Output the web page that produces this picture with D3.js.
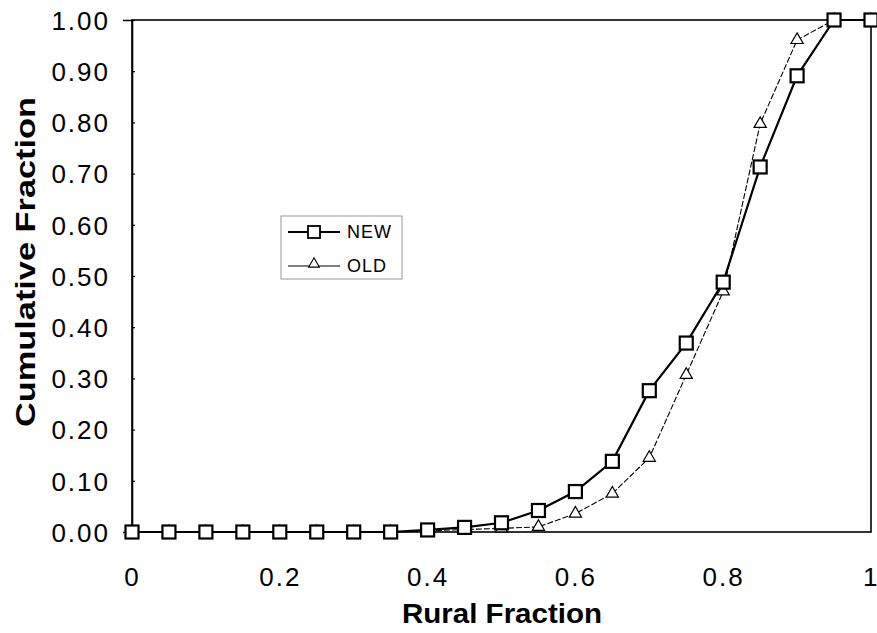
<!DOCTYPE html>
<html>
<head>
<meta charset="utf-8">
<script src="https://cdn.jsdelivr.net/npm/d3@7/dist/d3.min.js"></script>
<style>
  html, body { margin: 0; padding: 0; background: #fff; }
  svg { display: block; font-family: "Liberation Sans", Arial, sans-serif; }
</style>
</head>
<body>
<div id="chart"></div>
<script>
const ruralFraction = [0, 0.05, 0.1, 0.15, 0.2, 0.25, 0.3, 0.35, 0.4, 0.45, 0.5,
                       0.55, 0.6, 0.65, 0.7, 0.75, 0.8, 0.85, 0.9, 0.95, 1.0];
const newValues = [0, 0, 0, 0, 0, 0, 0, 0, 0.004, 0.009, 0.018,
                   0.042, 0.079, 0.138, 0.276, 0.369, 0.488, 0.713, 0.891, 1.0, 1.0];
const oldValues = [0, 0, 0, 0, 0, 0, 0, 0, 0.002, 0.005, 0.007,
                   0.01, 0.036, 0.075, 0.145, 0.307, 0.47, 0.797, 0.961, 1.0, 1.0];
const xTicks = [0, 0.2, 0.4, 0.6, 0.8, 1];
const yTicks = [0, 0.1, 0.2, 0.3, 0.4, 0.5, 0.6, 0.7, 0.8, 0.9, 1.0];

const W = 877, H = 633;
const margin = { top: 20, right: 6, bottom: 101, left: 132 };
const width = W - margin.left - margin.right;
const height = H - margin.top - margin.bottom;

const svg = d3.select("#chart").append("svg")
    .attr("width", W).attr("height", H);
const g = svg.append("g").attr("transform", `translate(${margin.left},${margin.top})`);

const x = d3.scaleLinear().domain([0, 1]).range([0, width]);
const y = d3.scaleLinear().domain([0, 1]).range([height, 0]);

// plot frame
g.append("rect").attr("x", 0).attr("y", 0).attr("width", width).attr("height", height)
    .attr("fill", "none").attr("stroke", "#000").attr("stroke-width", 1.6);

// y axis: ticks crossing the axis line
const yAxis = g.append("g")
    .call(d3.axisLeft(y).tickValues(yTicks).tickFormat(d3.format(".2f")).tickSize(9).tickPadding(13));
yAxis.select(".domain").attr("stroke-width", 1.6);
yAxis.selectAll(".tick line").attr("x2", 3).attr("stroke-width", 1.2);
yAxis.selectAll("text").style("font-size", "26px").style("letter-spacing", "2px")
    .attr("dy", "0.36em").attr("fill", "#000");

// x axis: labels only
const xAxis = g.append("g").attr("transform", `translate(0,${height})`)
    .call(d3.axisBottom(x).tickValues(xTicks).tickFormat(d3.format("")).tickSize(0).tickPadding(36));
xAxis.select(".domain").remove();
xAxis.selectAll("text").style("font-size", "26px").style("letter-spacing", "2px").attr("fill", "#000");
// keep the last label inside the page
xAxis.selectAll("text").filter(d => d === 1).attr("text-anchor", "end").attr("x", 6)
    .style("letter-spacing", "0px");

// axis titles
svg.append("text").attr("x", 502).attr("y", 623)
    .attr("text-anchor", "middle").style("font-size", "28px").style("font-weight", "bold")
    .attr("textLength", 200).attr("lengthAdjust", "spacingAndGlyphs")
    .text("Rural Fraction");
svg.append("text").attr("transform", "translate(35,262) rotate(-90)")
    .attr("text-anchor", "middle").style("font-size", "28px").style("font-weight", "bold")
    .attr("textLength", 330).attr("lengthAdjust", "spacingAndGlyphs")
    .text("Cumulative Fraction");

const line = d3.line().x((d, i) => x(ruralFraction[i])).y(d => y(d));

// OLD series: thin dashed line with triangles
g.append("path").datum(oldValues).attr("d", line)
    .attr("fill", "none").attr("stroke", "#000").attr("stroke-width", 1.1)
    .attr("stroke-dasharray", "6,2");
const tri = d3.symbol().type(d3.symbolTriangle).size(65);
g.selectAll(".old-pt").data(oldValues).enter().append("path").attr("class", "old-pt")
    .attr("d", tri)
    .attr("transform", (d, i) => `translate(${x(ruralFraction[i])},${y(d)})`)
    .attr("fill", "#fff").attr("stroke", "#000").attr("stroke-width", 1.2);

// NEW series: solid line with squares
g.append("path").datum(newValues).attr("d", line)
    .attr("fill", "none").attr("stroke", "#000").attr("stroke-width", 2.2);
const sq = 13;
g.selectAll(".new-pt").data(newValues).enter().append("rect").attr("class", "new-pt")
    .attr("x", (d, i) => x(ruralFraction[i]) - sq / 2)
    .attr("y", d => y(d) - sq / 2)
    .attr("width", sq).attr("height", sq)
    .attr("fill", "#fff").attr("stroke", "#000").attr("stroke-width", 2.2);

// legend
const leg = svg.append("g").attr("transform", "translate(281,216)");
leg.append("rect").attr("width", 121).attr("height", 63)
    .attr("fill", "#fff").attr("stroke", "#999").attr("stroke-width", 1);
const legendItems = [
  { label: "NEW", y: 16, kind: "square" },
  { label: "OLD", y: 50, kind: "triangle" }
];
legendItems.forEach(item => {
  leg.append("line").attr("x1", 7).attr("x2", 59).attr("y1", item.y).attr("y2", item.y)
      .attr("stroke", "#000").attr("stroke-width", item.kind === "square" ? 2 : 1.1);
  if (item.kind === "square") {
    leg.append("rect").attr("x", 27).attr("y", item.y - 6).attr("width", 12).attr("height", 12)
        .attr("fill", "#fff").attr("stroke", "#000").attr("stroke-width", 1.8);
  } else {
    leg.append("path").attr("d", d3.symbol().type(d3.symbolTriangle).size(50))
        .attr("transform", `translate(33,${item.y - 2})`)
        .attr("fill", "#fff").attr("stroke", "#000").attr("stroke-width", 1.1);
  }
  leg.append("text").attr("x", 66).attr("y", item.y + 6).style("font-size", "18px")
      .style("letter-spacing", "1px").text(item.label);
});
</script>
</body>
</html>
